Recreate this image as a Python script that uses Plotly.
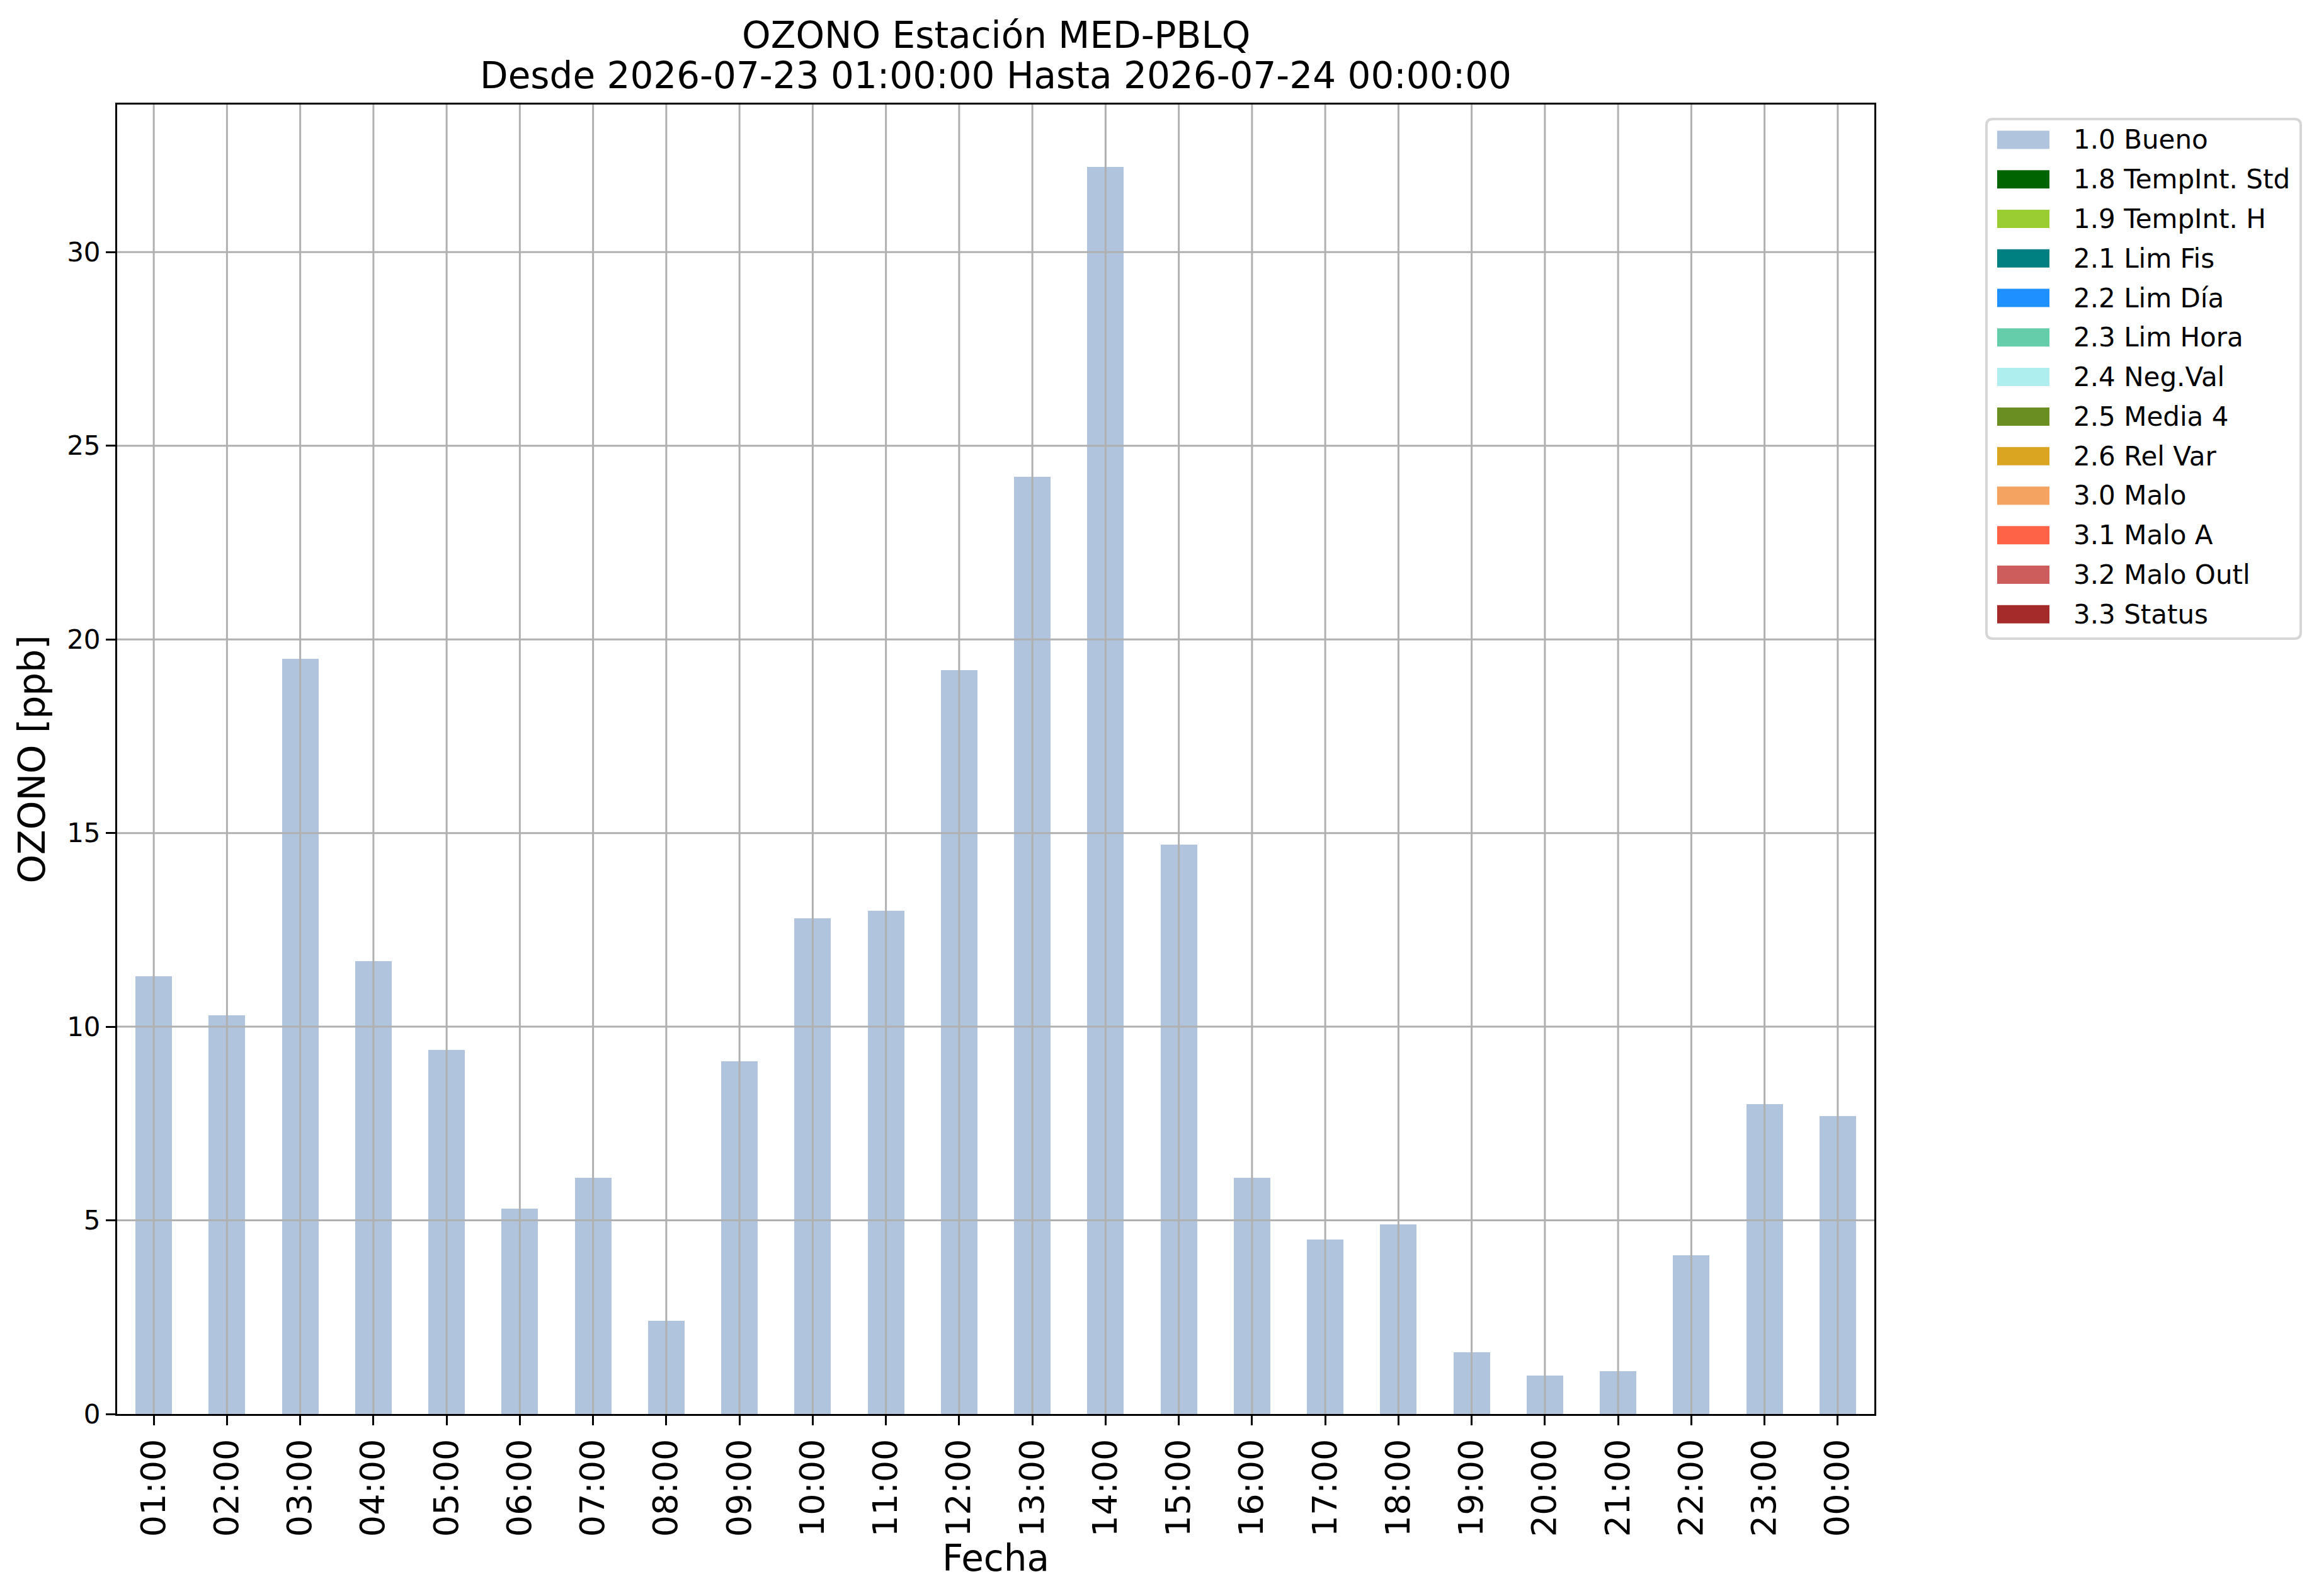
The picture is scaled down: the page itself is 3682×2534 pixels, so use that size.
import plotly.graph_objects as go

# ---------------- data ----------------
hours = ["01:00", "02:00", "03:00", "04:00", "05:00", "06:00", "07:00", "08:00",
         "09:00", "10:00", "11:00", "12:00", "13:00", "14:00", "15:00", "16:00",
         "17:00", "18:00", "19:00", "20:00", "21:00", "22:00", "23:00", "00:00"]

bueno = [11.3, 10.3, 19.5, 11.7, 9.4, 5.3, 6.1, 2.4, 9.1, 12.8, 13.0, 19.2,
         24.2, 32.2, 14.7, 6.1, 4.5, 4.9, 1.6, 1.0, 1.1, 4.1, 8.0, 7.7]

flag_labels = ["1.0 Bueno", "1.8 TempInt. Std", "1.9 TempInt. H", "2.1 Lim Fis",
               "2.2 Lim Día", "2.3 Lim Hora", "2.4 Neg.Val", "2.5 Media 4",
               "2.6 Rel Var", "3.0 Malo", "3.1 Malo A", "3.2 Malo Outl", "3.3 Status"]

flag_colors = ["#B0C4DE", "#006400", "#9ACD32", "#008080", "#1E90FF", "#66CDAA",
               "#AFEEEE", "#6B8E23", "#DAA520", "#F4A460", "#FF6347", "#CD5C5C",
               "#A52A2A"]

y_ticks = [0, 5, 10, 15, 20, 25, 30]
y_max = 32.2 * 1.05

title_line1 = "OZONO Estación MED-PBLQ"
title_line2 = "Desde 2026-07-23 01:00:00 Hasta 2026-07-24 00:00:00"

# series: only "Bueno" has values, the other flags are empty
series = {lab: ([v for v in bueno] if i == 0 else [0.0] * len(hours))
          for i, lab in enumerate(flag_labels)}

# ---------------- layout constants (page pixels) ----------------
W, H = 3682, 2534
OFF = 8                      # default body margin of the html page
PL, PR, PT, PB = 186, 2976, 166, 2245
FONT = "DejaVu Sans"


def px_x(px):
    return (px - PL) / (PR - PL)


def px_y(py):
    return (PB - py) / (PB - PT)


fig = go.Figure()
for lab, col in zip(flag_labels, flag_colors):
    fig.add_trace(go.Bar(
        x=hours, y=series[lab], name=lab, width=0.5,
        marker=dict(color=col, line=dict(width=0)),
        showlegend=False,
    ))

shapes = []
# grid lines drawn above the bars (like the reference)
for h in hours:
    shapes.append(dict(type="line", xref="x", yref="paper", x0=h, x1=h, y0=0, y1=1,
                       line=dict(color="#b0b0b0", width=3), layer="above"))
for t in y_ticks:
    if t > 0:
        shapes.append(dict(type="line", xref="paper", yref="y", x0=0, x1=1, y0=t, y1=t,
                           line=dict(color="#b0b0b0", width=3), layer="above"))

# custom legend (matplotlib-like)
LX0, LX1, LY0, LY1 = 3154, 3653, 189, 1014
r = 10
rx, ry = r / (PR - PL), r / (PB - PT)
x0, x1, y0, y1 = px_x(LX0), px_x(LX1), px_y(LY1), px_y(LY0)
path = (f"M{x0 + rx},{y0} L{x1 - rx},{y0} Q{x1},{y0} {x1},{y0 + ry} "
        f"L{x1},{y1 - ry} Q{x1},{y1} {x1 - rx},{y1} L{x0 + rx},{y1} "
        f"Q{x0},{y1} {x0},{y1 - ry} L{x0},{y0 + ry} Q{x0},{y0} {x0 + rx},{y0} Z")
shapes.append(dict(type="path", xref="paper", yref="paper", path=path,
                   fillcolor="white", line=dict(color="#d6d6d6", width=4), layer="above"))

annotations = []
ENTRY0, PITCH, PATCH_H = 222, 62.77, 29
for i, (lab, col) in enumerate(zip(flag_labels, flag_colors)):
    cy = ENTRY0 + i * PITCH
    shapes.append(dict(type="rect", xref="paper", yref="paper",
                       x0=px_x(3171), x1=px_x(3254),
                       y0=px_y(cy + PATCH_H / 2), y1=px_y(cy - PATCH_H / 2),
                       fillcolor=col, line=dict(width=0), layer="above"))
    annotations.append(dict(xref="paper", yref="paper", x=px_x(3290), y=px_y(cy),
                            xanchor="left", yanchor="middle", text=lab, showarrow=False,
                            font=dict(family=FONT, size=42, color="black")))

# title (two lines)
annotations.append(dict(xref="paper", yref="paper", x=0.5, y=px_y(56),
                        xanchor="center", yanchor="middle", text=title_line1,
                        showarrow=False, font=dict(family=FONT, size=58, color="black")))
annotations.append(dict(xref="paper", yref="paper", x=0.5, y=px_y(120),
                        xanchor="center", yanchor="middle", text=title_line2,
                        showarrow=False, font=dict(family=FONT, size=58, color="black")))

axis_common = dict(showline=True, mirror=True, linecolor="black", linewidth=3,
                   ticks="outside", ticklen=15, tickwidth=3, tickcolor="black",
                   showgrid=False, zeroline=False, automargin=False)

FW, FH = W - 2 * OFF, H - 2 * OFF
fig.update_layout(
    width=FW, height=FH,
    margin=dict(l=PL - OFF, r=FW - (PR - OFF), t=PT - OFF, b=FH - (PB - OFF), pad=0),
    paper_bgcolor="white", plot_bgcolor="white",
    barmode="stack", bargap=0.5,
    font=dict(family=FONT, color="black"),
    shapes=shapes, annotations=annotations,
    showlegend=False,
    xaxis=dict(type="category", range=[-0.5, len(hours) - 0.5], tickangle=-90,
               tickfont=dict(family=FONT, size=54, color="black"),
               title=dict(text="Fecha", font=dict(family=FONT, size=58, color="black"),
                          standoff=6),
               **axis_common),
    yaxis=dict(range=[0, y_max], tickvals=y_ticks,
               tickfont=dict(family=FONT, size=42, color="black"),
               title=dict(text="OZONO [ppb]", font=dict(family=FONT, size=58, color="black"),
                          standoff=16),
               **axis_common),
)

fig.write_html("out.html")
